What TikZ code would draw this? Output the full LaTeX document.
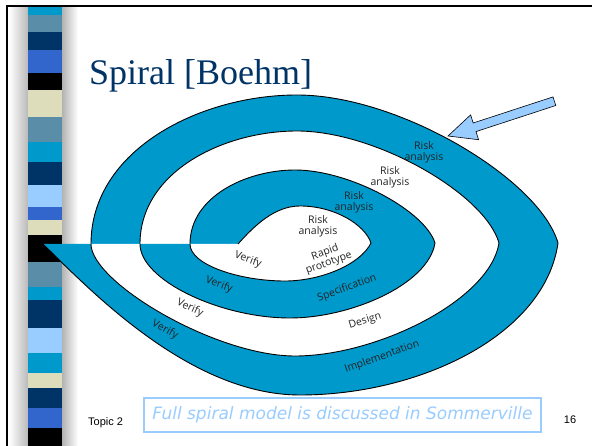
\documentclass[tikz,border=0pt]{standalone}
\usepackage{fontspec}
\usepackage{xcolor}
\usepackage{tikz}
\usetikzlibrary{arrows.meta, positioning, calc}
\newfontfamily\titlefont{Liberation Serif}
\newfontfamily\labelfont{Open Sans}
\newfontfamily\footfont{Liberation Sans}
\newfontfamily\notefont{DejaVu Sans}
\definecolor{spiralblue}{RGB}{0, 153, 204}
\definecolor{steelblue}{RGB}{90, 142, 168}
\definecolor{navyblue}{RGB}{0, 51, 102}
\definecolor{royalblue}{RGB}{51, 102, 204}
\definecolor{beige}{RGB}{221, 221, 187}
\definecolor{paleblue}{RGB}{153, 204, 255}
\definecolor{labelgray}{RGB}{35, 35, 35}
\tikzset{
  lbl/.style={font=\labelfont\fontsize{10.5}{11}\selectfont, text=labelgray, align=center, inner sep=0pt},
  spiralline/.style={line width=0.9pt, black, line join=round}
}

\begin{document}
\begin{tikzpicture}[x=1pt, y=-1pt]
    \useasboundingbox (0,0) rectangle (592,446);
    \fill[white] (0,0) rectangle (592,446);
    % side strip
    \shade[left color=white, right color=gray!55] (9,6) rectangle (28,446);
    \shade[left color=gray!60, right color=white] (62,6) rectangle (78,446);
    \fill[spiralblue] (28,6) rectangle (62,15);
    \fill[steelblue] (28,15) rectangle (62,32);
    \fill[navyblue] (28,32) rectangle (62,50);
    \fill[royalblue] (28,50) rectangle (62,73);
    \fill[black] (28,73) rectangle (62,90);
    \fill[beige] (28,90) rectangle (62,117);
    \fill[steelblue] (28,117) rectangle (62,142);
    \fill[spiralblue] (28,142) rectangle (62,162);
    \fill[navyblue] (28,162) rectangle (62,185);
    \fill[paleblue] (28,185) rectangle (62,207);
    \fill[royalblue] (28,207) rectangle (62,220);
    \fill[beige] (28,220) rectangle (62,235);
    \fill[black] (28,235) rectangle (62,262);
    \fill[steelblue] (28,262) rectangle (62,287);
    \fill[spiralblue] (28,287) rectangle (62,300);
    \fill[navyblue] (28,300) rectangle (62,328);
    \fill[paleblue] (28,328) rectangle (62,353);
    \fill[spiralblue] (28,353) rectangle (62,373);
    \fill[beige] (28,373) rectangle (62,388);
    \fill[navyblue] (28,388) rectangle (62,408);
    \fill[royalblue] (28,408) rectangle (62,428);
    \fill[black] (28,428) rectangle (62,446);
    \draw[line width=2pt] (7,446) -- (7,6) -- (592,6);

    \node[anchor=base west, font=\titlefont\fontsize{36}{40}\selectfont, text=navyblue, inner sep=0pt] (title) at (89,85) {Spiral [Boehm]};

    % spiral bands
    \fill[spiralblue] (91,244) .. controls (91,150) and (200,95) .. (297,95) .. controls (400,95) and (540,180) .. (558,243)
        .. controls (545,335) and (420,395) .. (300,395) .. controls (190,395) and (90,290) .. (43,244) -- cycle;
    \fill[white] (140,244) .. controls (140,172) and (223,131) .. (297,131) .. controls (376,131) and (485,194) .. (499,243)
        .. controls (490,300) and (377,356) .. (295,356) .. controls (215,356) and (91,282) .. (91,244) -- cycle;
    \fill[spiralblue] (190,244) .. controls (190,197) and (246,170) .. (295,170) .. controls (350,170) and (425,211) .. (435,243)
        .. controls (428,285) and (350,318) .. (290,318) .. controls (220,318) and (140,280) .. (140,244) -- cycle;
    \fill[white] (238,244) .. controls (255,225) and (275,206) .. (300,206) .. controls (335,206) and (365,225) .. (371,243)
        .. controls (360,265) and (320,281) .. (285,281) .. controls (240,281) and (190,265) .. (190,244) -- cycle;
    \draw[spiralline] (238,244) .. controls (255,225) and (275,206) .. (300,206) .. controls (335,206) and (365,225) .. (371,243)
        .. controls (360,265) and (320,281) .. (285,281) .. controls (240,281) and (190,265) .. (190,244)
        .. controls (190,197) and (246,170) .. (295,170) .. controls (350,170) and (425,211) .. (435,243)
        .. controls (428,285) and (350,318) .. (290,318) .. controls (220,318) and (140,280) .. (140,244)
        .. controls (140,172) and (223,131) .. (297,131) .. controls (376,131) and (485,194) .. (499,243)
        .. controls (490,300) and (377,356) .. (295,356) .. controls (215,356) and (91,282) .. (91,244)
        .. controls (91,150) and (200,95) .. (297,95) .. controls (400,95) and (540,180) .. (558,243)
        .. controls (545,335) and (420,395) .. (300,395) .. controls (190,395) and (90,290) .. (43,244);

    % labels
    \node[lbl] (riskA) at (318,226) {Risk\\analysis};
    \node[lbl, rotate=20] (proto) at (327,258) {Rapid\\prototype};
    \node[lbl, rotate=-20] (verifyA) at (248,260) {Verify};
    \node[lbl] (riskB) at (354,202) {Risk\\analysis};
    \node[lbl, rotate=-20] (verifyB) at (219,285) {Verify};
    \node[lbl, rotate=20] (spec) at (347,288) {Specification};
    \node[lbl] (riskC) at (390,177) {Risk\\analysis};
    \node[lbl, rotate=-25] (verifyC) at (190,308) {Verify};
    \node[lbl, rotate=17] (design) at (365,321) {Design};
    \node[lbl] (riskD) at (424,152) {Risk\\analysis};
    \node[lbl, rotate=-28] (verifyD) at (165,330) {Verify};
    \node[lbl, rotate=20] (impl) at (382,357) {Implementation};

    % pointer
    \filldraw[fill=paleblue, draw=black, line width=0.6pt] (448,136) -- (478.6,139.7) -- (476.0,131.6) -- (555.8,105.5)
        -- (553.0,96.9) -- (473.2,123.0) -- (470.6,114.9) -- cycle;

    % footer
    \node[anchor=base west, font=\footfont\fontsize{11}{12}\selectfont, inner sep=0pt] (topic) at (88,425) {Topic 2};
    \node[draw=paleblue, line width=2pt, minimum width=397pt, minimum height=33pt, inner sep=0pt,
        font=\notefont\itshape\fontsize{17}{18}\selectfont, text=paleblue] (note) at (342.5,415) {Full spiral model is discussed in Sommerville};
    \node[anchor=base, font=\footfont\fontsize{11}{12}\selectfont, inner sep=0pt] (page) at (570,423) {16};
\end{tikzpicture}
\end{document}
